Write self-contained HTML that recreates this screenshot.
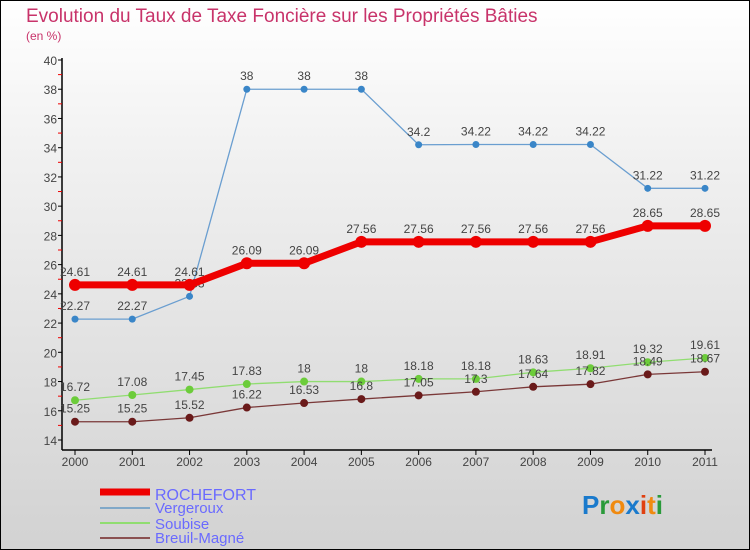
<!DOCTYPE html>
<html><head><meta charset="utf-8"><style>
body{margin:0}
#c{width:750px;height:550px;position:relative;box-sizing:border-box;border:1px solid #000;background:linear-gradient(#ffffff,#f0f0f0 30%,#d2d2d2);overflow:hidden;font-family:"Liberation Sans",sans-serif}
</style></head><body>
<div id="c">
<svg id="s" width="750" height="550" style="position:absolute;left:-1px;top:-1px">
<text x="26" y="22" font-size="19" fill="#c8336a">Evolution du Taux de Taxe Foncière sur les Propriétés Bâties</text>
<text x="26" y="40" font-size="12" fill="#c8336a">(en %)</text>
<g id="axes"></g><g id="series"></g>
<g>
<line x1="100" y1="492" x2="150" y2="492" stroke="#e00" stroke-width="7"/>
<text x="155" y="500" font-size="16" fill="#6a6aff">ROCHEFORT</text>
<line x1="100" y1="508" x2="150" y2="508" stroke="#80a8c8" stroke-width="2"/>
<text x="155" y="513" font-size="15" fill="#6a6aff">Vergeroux</text>
<line x1="100" y1="523" x2="150" y2="523" stroke="#90dd70" stroke-width="2"/>
<text x="155" y="529" font-size="15" fill="#6a6aff">Soubise</text>
<line x1="100" y1="538" x2="150" y2="538" stroke="#8a5050" stroke-width="2"/>
<text x="155" y="543" font-size="15" fill="#6a6aff">Breuil-Magné</text>
</g>
<text x="582" y="514" font-size="26" font-weight="bold"><tspan fill="#1a7acc">P</tspan><tspan fill="#2a9a3a">r</tspan><tspan fill="#f08a10">o</tspan><tspan fill="#1a7acc">x</tspan><tspan fill="#e04010">i</tspan><tspan fill="#f08a10">t</tspan><tspan fill="#2a9a3a">i</tspan></text>
</svg>
</div>
<script>
const years=[2000,2001,2002,2003,2004,2005,2006,2007,2008,2009,2010,2011];
const yTicks=[14,16,18,20,22,24,26,28,30,32,34,36,38,40];
const rochefort=[24.61,24.61,24.61,26.09,26.09,27.56,27.56,27.56,27.56,27.56,28.65,28.65];
const vergeroux=[22.27,22.27,23.83,38,38,38,34.2,34.22,34.22,34.22,31.22,31.22];
const soubise=[16.72,17.08,17.45,17.83,18,18,18.18,18.18,18.63,18.91,19.32,19.61];
const breuil=[15.25,15.25,15.52,16.22,16.53,16.8,17.05,17.3,17.64,17.82,18.49,18.67];
const NS="http://www.w3.org/2000/svg";
const X=i=>75+i*(630/11);
const Y=v=>440-(v-14)*(380/26);
function mk(t,a,p){const e=document.createElementNS(NS,t);for(const k in a)e.setAttribute(k,a[k]);p.appendChild(e);return e;}
const ax=document.getElementById('axes');
let l=mk('line',{x1:62,y1:58,x2:62,y2:450,stroke:'#000','stroke-width':1.5},ax);


l=mk('line',{x1:62,y1:450,x2:712,y2:450,stroke:'#000','stroke-width':1.5},ax);


yTicks.forEach((v,i)=>{
  const y=Y(v);
  const t=mk('line',{x1:58,y1:y,x2:62,y2:y,stroke:'#000'},ax);
  
  
  if(i<yTicks.length-1){const m=mk('line',{x1:58,y1:Y(v+1),x2:62,y2:Y(v+1),stroke:'#e00'},ax);
  
  }
  const tx=mk('text',{x:57,y:y+5,'font-size':12,fill:'#444','text-anchor':'end'},ax);tx.textContent=v;
  
  
});
years.forEach((yr,i)=>{
  const x=X(i);
  const t=mk('line',{x1:x,y1:450,x2:x,y2:455,stroke:'#000'},ax);
  
  
  const tx=mk('text',{x:x,y:466,'font-size':12,fill:'#444','text-anchor':'middle'},ax);tx.textContent=yr;
  
  
});
const sg=document.getElementById('series');
function series(name,data,color,w,r,fill){
  const g=mk('g',{},sg);
  
  
  const p=mk('polyline',{points:data.map((v,i)=>X(i)+','+Y(v)).join(' '),fill:'none',stroke:color,'stroke-width':w,'stroke-linejoin':'round'},g);
  
  
  data.forEach((v,i)=>{
    const c=mk('circle',{cx:X(i),cy:Y(v),r:r,fill:fill},g);
    
    
    const t=mk('text',{x:X(i),y:Y(v)-9,'font-size':12,fill:'#444','text-anchor':'middle'},g);t.textContent=v;
    
    
  });
}
series('vergeroux',vergeroux,'#6a9ed0',1.3,3.5,'#3a86c8');
series('soubise',soubise,'#90dd70',1.3,4,'#6ccc3a');
series('breuil-magne',breuil,'#7a3838',1.3,4,'#6a1a1a');
series('rochefort',rochefort,'#ee0000',7,6,'#ee0000');
</script>
</body></html>
